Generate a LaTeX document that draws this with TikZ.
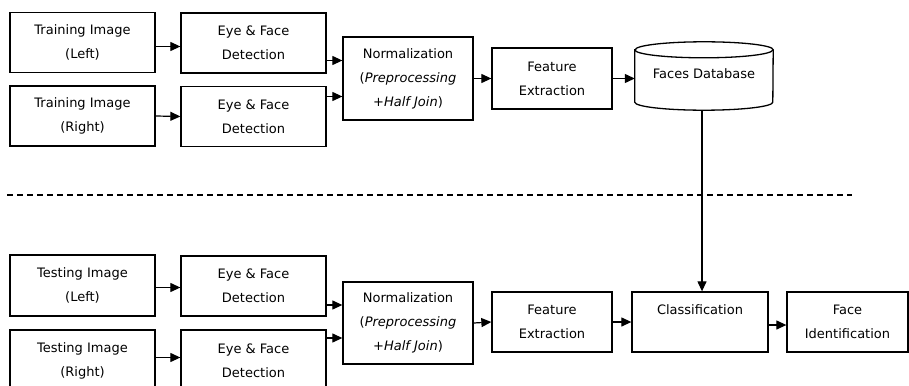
\documentclass[tikz,border=0pt]{standalone}
\usepackage{fontspec}
\setmainfont{DejaVu Sans}
\usetikzlibrary{arrows.meta}
\tikzset{
  lbl/.style={font=\fontsize{13}{24}\selectfont},
  blk/.style={draw,line width=1.3pt,rectangle,align=center,inner sep=2pt,
    minimum width=145pt,minimum height=60pt,lbl},
  arr/.style={line width=1.2pt,-{Triangle[length=10pt,width=9pt]}},
  sep/.style={line width=1.1pt,dash pattern=on 6pt off 4pt}
}
\begin{document}
\begin{tikzpicture}[x=1pt,y=-1pt]
    \path[use as bounding box,clip] (0,0) rectangle (909,385);
    % Training
    \node[blk] (trL) at (82.5,42.5) {Training Image\\(Left)};
    \node[blk] (trR) at (82.5,116) {Training Image\\(Right)};
    \node[blk] (efA) at (253.5,43) {Eye \& Face\\Detection};
    \node[blk] (efB) at (253.5,116.5) {Eye \& Face\\Detection};
    \node[blk,minimum width=130pt,minimum height=83pt] (normA) at (408,78.5)
        {Normalization\\(\textit{Preprocessing}\\\textit{+Half Join})};
    \node[blk,minimum width=120pt,minimum height=61pt] (featA) at (552,78.5) {Feature\\Extraction};
    % database drum
    \node[inner sep=0pt,minimum width=138pt,minimum height=68pt] (db) at (704,76) {};
    \draw[line width=1.3pt] ([yshift=-8pt]db.north west) -- ([yshift=8pt]db.south west)
        arc[start angle=180,end angle=360,x radius=69pt,y radius=8pt]
        -- ([yshift=-8pt]db.north east)
        arc[start angle=0,end angle=180,x radius=69pt,y radius=8pt] -- cycle;
    \draw[line width=1.3pt] ([yshift=-8pt]db.north west)
        arc[start angle=180,end angle=360,x radius=69pt,y radius=8pt];
    \node[lbl] (dbT) at (704,74) {Faces Database};
    \coordinate (inA) at ([yshift=18pt]normA.west);
    \coordinate (inB) at ([yshift=-18pt]normA.west);
    \draw[arr] ([yshift=-4pt]trL.east) -- ([yshift=-4pt]trL.east -| efA.west);
    \draw[arr] (trR.east) -- (efB.west);
    \draw[arr] (efA.east |- inA) -- (inA);
    \draw[arr] (efB.east |- inB) -- (inB);
    \draw[arr] (normA.east) -- (featA.west);
    \draw[arr] (featA.east) -- (db.west |- featA.east);
    % separator
    \coordinate (sepL) at (7,195);
    \coordinate (sepR) at (852,195);
    \draw[sep] (sepL) -- (sepR);
    % Testing
    \node[blk,minimum height=61pt] (teL) at (82.5,285.5) {Testing Image\\(Left)};
    \node[blk,minimum height=61pt] (teR) at (82.5,360.5) {Testing Image\\(Right)};
    \node[blk] (efC) at (253.5,286) {Eye \& Face\\Detection};
    \node[blk,minimum height=61pt] (efD) at (253.5,360.5) {Eye \& Face\\Detection};
    \node[blk,minimum width=130pt,minimum height=82pt] (normB) at (408,323)
        {Normalization\\(\textit{Preprocessing}\\\textit{+Half Join})};
    \node[blk,minimum width=120pt] (featB) at (552,322) {Feature\\Extraction};
    \node[blk,minimum width=136pt] (cls) at (700,322) {Classification\\\mbox{}};
    \node[blk,minimum width=121pt] (face) at (847.5,322) {Face\\Identification};
    \coordinate (inC) at ([yshift=18pt]normB.west);
    \coordinate (inD) at ([yshift=-15pt]normB.west);
    \draw[arr] ([yshift=-2pt]teL.east) -- ([yshift=-2pt]teL.east -| efC.west);
    \draw[arr] ([yshift=3pt]teR.east) -- ([yshift=3pt]teR.east -| efD.west);
    \draw[arr] (efC.east |- inC) -- (inC);
    \draw[arr] (efD.east |- inD) -- (inD);
    \draw[arr] (normB.east) -- (featB.west);
    \draw[arr] (featB.east) -- (cls.west |- featB.east);
    \draw[arr] ([yshift=-3pt]cls.east) -- ([yshift=-3pt]face.west);
    \draw[arr] ([xshift=-2pt]db.south) -- ([xshift=-2pt]db.south |- cls.north);
\end{tikzpicture}
\end{document}
